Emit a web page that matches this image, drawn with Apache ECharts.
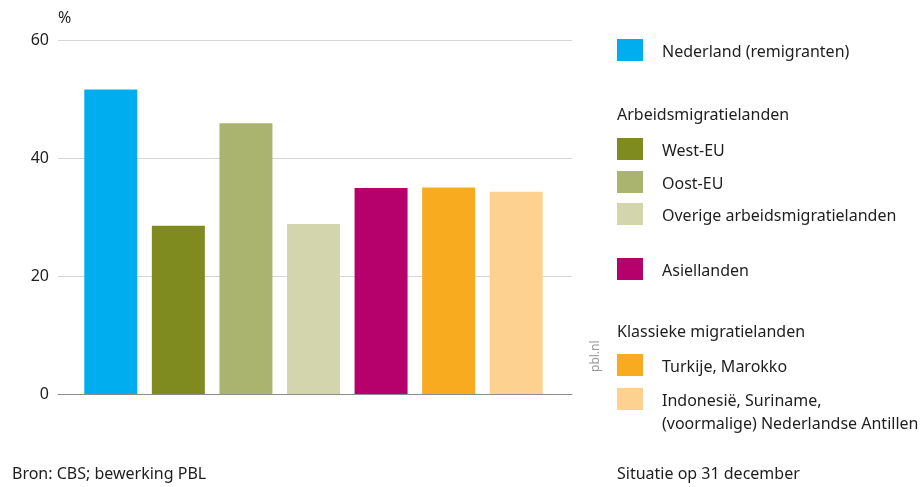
<!DOCTYPE html>
<html>
<head>
<meta charset="utf-8">
<script src="https://cdn.jsdelivr.net/npm/echarts@6/dist/echarts.min.js"></script>
<style>
  html, body { margin: 0; padding: 0; background: #fff; }
  #main { width: 923px; height: 487px; }
</style>
</head>
<body>
<div id="main"></div>
<script>
var categories = ['Nederland (remigranten)', 'West-EU', 'Oost-EU', 'Overige arbeidsmigratielanden',
  'Asiellanden', 'Turkije, Marokko', 'Indonesië, Suriname, (voormalige) Nederlandse Antillen'];
var values = [51.6, 28.5, 45.9, 28.8, 34.9, 35.0, 34.3];
var colors = ['#00aeef', '#808b1f', '#abb46e', '#d3d5ac', '#b6006b', '#f9ab1f', '#fdd18f'];
var yTicks = [0, 20, 40, 60];

// legend texts (headings and entries), shown on the right
var legendLabels = ['Nederland (remigranten)', 'West-EU', 'Oost-EU', 'Overige arbeidsmigratielanden',
  'Asiellanden', 'Turkije, Marokko', 'Indonesië, Suriname,\n(voormalige) Nederlandse Antillen'];
var legendHeadings = ['Arbeidsmigratielanden', 'Klassieke migratielanden'];

var font = 'Noto Sans';
var textColor = '#1e1e1e';

var chart = echarts.init(document.getElementById('main'), null, { renderer: 'canvas' });

// layout of the legend (y centres)
var legendY = [50, 149, 182, 214, 269, 365, 399];
var headingY = [116, 333];

var graphic = [];
legendLabels.forEach(function (lab, i) {
  graphic.push({
    type: 'rect',
    left: 617, top: legendY[i] - 11,
    shape: { width: 26, height: 22 },
    style: { fill: colors[i] }
  });
  graphic.push({
    type: 'text',
    left: 662, top: legendY[i] - 9,
    style: { text: lab, font: '16px ' + font, fill: textColor, lineHeight: 23 }
  });
});
legendHeadings.forEach(function (h, i) {
  graphic.push({
    type: 'text', left: 617, top: headingY[i] - 9,
    style: { text: h, font: '16px ' + font, fill: textColor }
  });
});
graphic.push({
  type: 'text', left: 12, top: 466,
  style: { text: 'Bron: CBS; bewerking PBL', font: '16px ' + font, fill: textColor }
});
graphic.push({
  type: 'text', left: 617, top: 466,
  style: { text: 'Situatie op 31 december', font: '16px ' + font, fill: textColor }
});
graphic.push({
  type: 'text', x: 590, y: 372, rotation: Math.PI / 2,
  style: { text: 'pbl.nl', font: '12px ' + font, fill: '#9a9a9a' }
});

var option = {
  backgroundColor: '#ffffff',
  animation: false,
  textStyle: { fontFamily: font },
  grid: [
    { left: 58, right: 351, top: 40, bottom: 93 },
    { left: 77, right: 373, top: 40, bottom: 93 }
  ],
  xAxis: [
    {
      gridIndex: 0, type: 'value', min: 0, max: 1,
      axisLabel: { show: false }, axisTick: { show: false }, splitLine: { show: false },
      axisLine: { show: true, lineStyle: { color: '#8c8c8c', width: 1 } }
    },
    {
      gridIndex: 1, type: 'category', data: categories,
      axisLabel: { show: false }, axisTick: { show: false }, axisLine: { show: false }
    }
  ],
  yAxis: [
    {
      gridIndex: 0, type: 'value', min: yTicks[0], max: yTicks[yTicks.length - 1], interval: 20,
      name: '%', nameLocation: 'end', nameGap: 14,
      nameTextStyle: { align: 'left', fontSize: 16, color: textColor, fontFamily: font },
      axisLine: { show: false }, axisTick: { show: false },
      axisLabel: { fontSize: 16, color: textColor, margin: 9, fontFamily: font },
      splitLine: { lineStyle: { color: '#d6d6d6', width: 1 } }
    },
    {
      gridIndex: 1, type: 'value', min: yTicks[0], max: yTicks[yTicks.length - 1],
      show: false, splitLine: { show: false }
    }
  ],
  series: [{
    type: 'bar',
    xAxisIndex: 1, yAxisIndex: 1,
    barWidth: 53,
    z: 3,
    data: values.map(function (v, i) {
      return { value: v, itemStyle: { color: colors[i] } };
    })
  }],
  graphic: graphic
};

chart.setOption(option);
</script>
</body>
</html>
